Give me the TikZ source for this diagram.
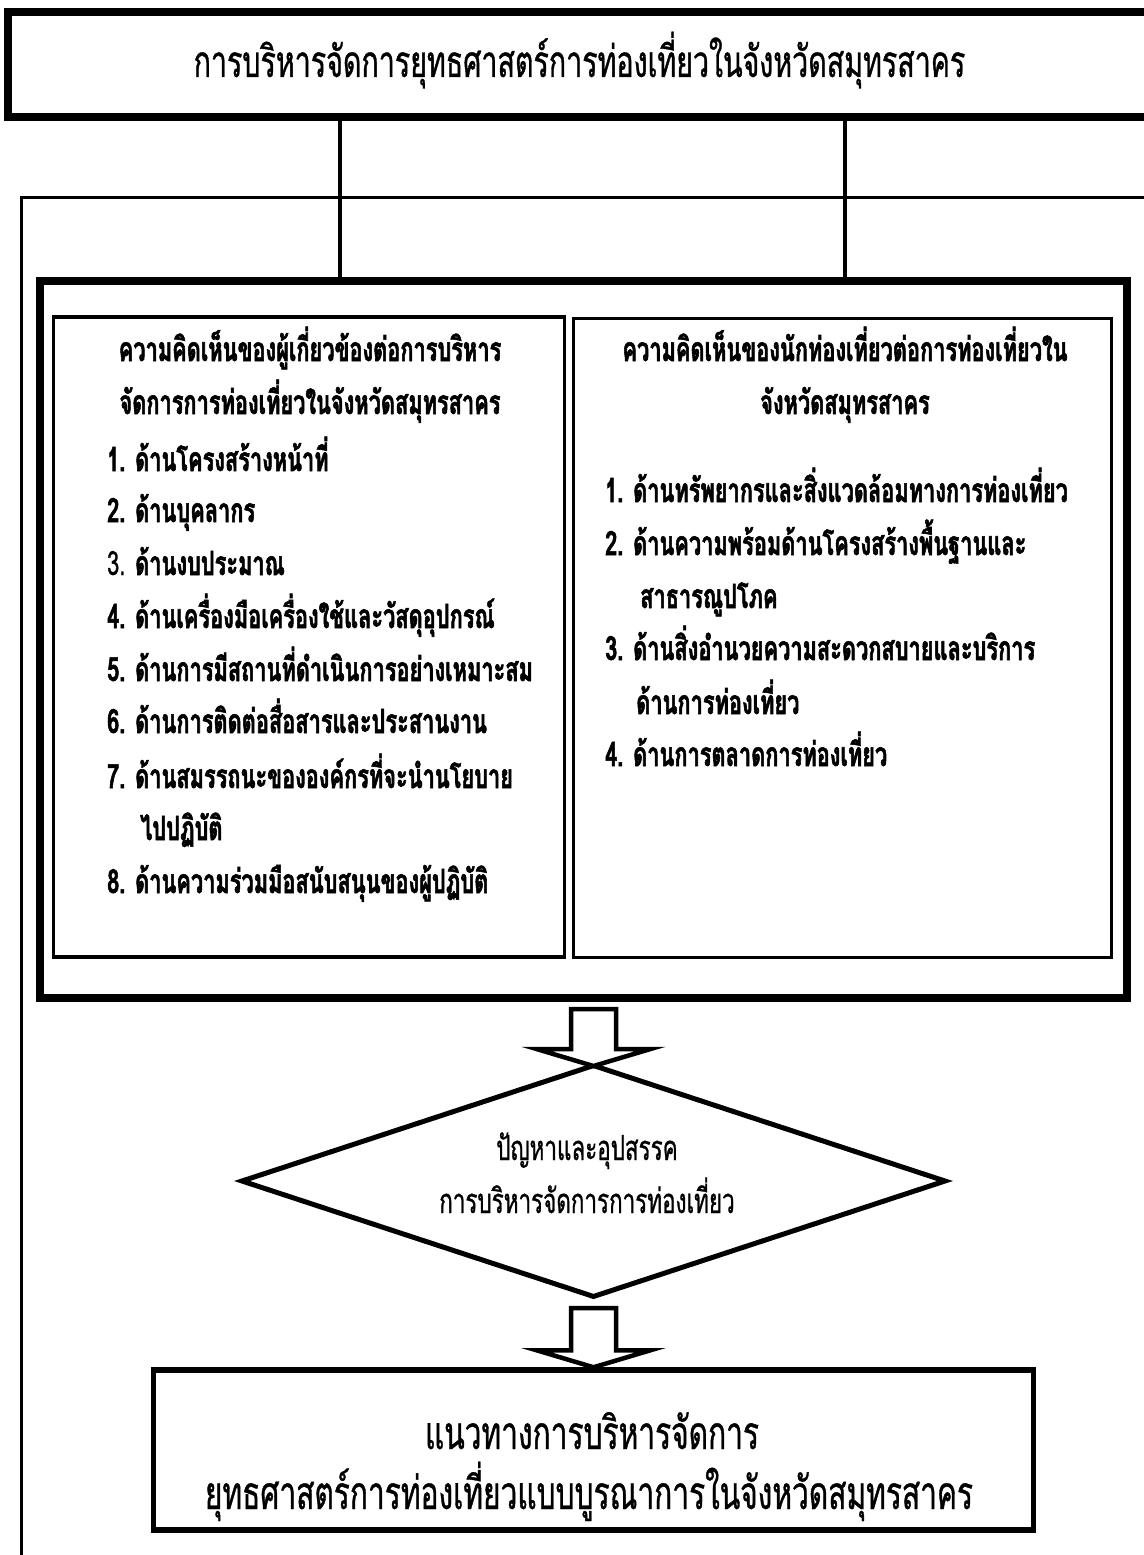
\documentclass[tikz,border=0pt]{standalone}
\usepackage{fontspec}
\newfontfamily\thaicond[Script=Thai,FakeStretch=0.65,FakeBold=0.8]{Loma}
\newfontfamily\thaicondB[Script=Thai,FakeStretch=0.65,FakeBold=1.6]{Loma}
\usetikzlibrary{shapes.geometric,calc}
\newcommand\thaiB{\thaicondB\bfseries\fontsize{33.5}{53}\selectfont}
\newcommand\thaiR{\thaicond\fontsize{34.5}{53}\selectfont}
\newcommand\thaiTitle{\thaicond\fontsize{44}{60}\selectfont}
\newcommand\thaiBig{\thaicond\fontsize{46}{60}\selectfont}
\newcommand\blkarrow[3]{%
  \draw[barrow] let \p1=(#1), \p2=(#2) in
    (\x2-22.5pt,\y1-#3) -- (\x2+22.5pt,\y1-#3) -- (\x2+22.5pt,\y2+17pt)
    -- (\x2+57pt,\y2+17pt) -- (\x2,\y2) -- (\x2-57pt,\y2+17pt)
    -- (\x2-22.5pt,\y2+17pt) -- cycle;}
\begin{document}
\begin{tikzpicture}[x=1pt,y=-1pt,
  boxA/.style={draw, line width=8pt, inner sep=0pt},
  boxB/.style={draw, line width=3.5pt, inner sep=0pt},
  conn/.style={line width=4.5pt},
  frameline/.style={line width=3pt},
  barrow/.style={draw, fill=white, line width=4.5pt, line join=miter},
  headtxt/.style={anchor=base, inner sep=0pt, font=\thaiB},
  itemtxt/.style={anchor=base west, inner sep=0pt, font=\thaiB}]
\useasboundingbox (0,0) rectangle (1143,1555);
\fill[white] (0,0) rectangle (1143,1555);
% thin frame
\draw[frameline] (21.5,1565) |- (1160,197.5);
% top title box
\node[boxA, minimum width=1147pt, minimum height=105pt] (top) at (581.5,64.5) {};
\node[anchor=base, inner sep=0pt, font=\thaiTitle] (title) at (579.5,77)
  {การบริหารจัดการยุทธศาสตร์การท่องเที่ยวในจังหวัดสมุทรสาคร};
% big box
\node[boxA, minimum width=1087pt, minimum height=717pt] (big) at (583.5,639.5) {};
\coordinate (c1) at (340,0);
\coordinate (c2) at (845,0);
\draw[conn] (top.south -| c1) -- (big.north -| c1);
\draw[conn] (top.south -| c2) -- (big.north -| c2);
% inner boxes
\node[boxB, minimum width=511pt, minimum height=640pt] (lb) at (309,637) {};
\node[boxB, line width=3pt, minimum width=538.5pt, minimum height=638.5pt] (rb) at (842.25,637.75) {};
% left box text
\node[headtxt] (lh1) at (310,361) {ความคิดเห็นของผู้เกี่ยวข้องต่อการบริหาร};
\node[headtxt] (lh2) at (310,414) {จัดการการท่องเที่ยวในจังหวัดสมุทรสาคร};
\node[itemtxt] (l1) at (107,471) {1. ด้านโครงสร้างหน้าที่};
\node[itemtxt] (l2) at (107,522) {2. ด้านบุคลากร};
\node[itemtxt] (l3) at (107,575) {{\thaicond\mdseries 3.} ด้านงบประมาณ};
\node[itemtxt] (l4) at (107,628) {4. ด้านเครื่องมือเครื่องใช้และวัสดุอุปกรณ์};
\node[itemtxt] (l5) at (107,681) {5. ด้านการมีสถานที่ดำเนินการอย่างเหมาะสม};
\node[itemtxt] (l6) at (107,733) {6. ด้านการติดต่อสื่อสารและประสานงาน};
\node[itemtxt] (l7) at (107,788) {7. ด้านสมรรถนะขององค์กรที่จะนำนโยบาย};
\node[itemtxt] (l7b) at (140,840) {ไปปฏิบัติ};
\node[itemtxt] (l8) at (107,893) {8. ด้านความร่วมมือสนับสนุนของผู้ปฏิบัติ};
% right box text
\node[headtxt] (rh1) at (845,361) {ความคิดเห็นของนักท่องเที่ยวต่อการท่องเที่ยวใน};
\node[headtxt] (rh2) at (845,414) {จังหวัดสมุทรสาคร};
\node[itemtxt] (r1) at (605,502) {1. ด้านทรัพยากรและสิ่งแวดล้อมทางการท่องเที่ยว};
\node[itemtxt] (r2) at (605,555) {2. ด้านความพร้อมด้านโครงสร้างพื้นฐานและ};
\node[itemtxt] (r2b) at (640,608) {สาธารณูปโภค};
\node[itemtxt] (r3) at (605,660) {3. ด้านสิ่งอำนวยความสะดวกสบายและบริการ};
\node[itemtxt] (r3b) at (636,714) {ด้านการท่องเที่ยว};
\node[itemtxt] (r4) at (605,766) {4. ด้านการตลาดการท่องเที่ยว};
% diamond
\node[draw, diamond, aspect=3, line width=5pt, inner sep=0pt, minimum width=705pt,
  minimum height=233pt] (dia) at (593.5,1181) {};
\node[anchor=base, inner sep=0pt, font=\thaiR] (d1) at (587,1160) {ปัญหาและอุปสรรค};
\node[anchor=base, inner sep=0pt, font=\thaiR] (d2) at (587,1213) {การบริหารจัดการการท่องเที่ยว};
% bottom box
\node[draw, line width=5.5pt, inner sep=0pt, minimum width=880pt, minimum height=160pt] (bot) at (593.5,1450) {};
\node[anchor=base, inner sep=0pt, font=\thaiBig] (b1) at (592,1449) {แนวทางการบริหารจัดการ};
\node[anchor=base, inner sep=0pt, font=\thaiBig] (b2) at (589,1509) {ยุทธศาสตร์การท่องเที่ยวแบบบูรณาการในจังหวัดสมุทรสาคร};
% block arrows
\blkarrow{big.south}{[yshift=-4pt]dia.north}{7pt}
\blkarrow{dia.south}{bot.north}{8pt}
\end{tikzpicture}
\end{document}
